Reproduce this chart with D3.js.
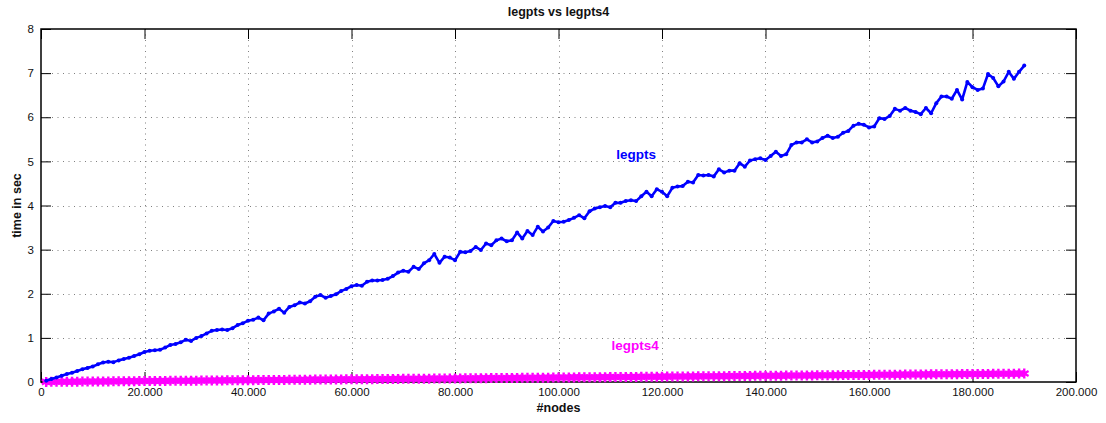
<!DOCTYPE html>
<html>
<head>
<meta charset="utf-8">
<script src="https://cdn.jsdelivr.net/npm/d3@7"></script>
<style>
  html, body { margin: 0; padding: 0; background: #fff; }
  svg { display: block; font-family: "Liberation Sans", Arial, Helvetica, sans-serif; }
</style>
</head>
<body>
<svg id="chart" width="1106" height="423"></svg>
<script>
// ---- data ----
const title = "legpts vs legpts4";
const xLabel = "#nodes";
const yLabel = "time in sec";
const seriesNames = ["legpts", "legpts4"];
const seriesColors = ["#0000ff", "#ff00ff"];
const xTicks = [0, 20000, 40000, 60000, 80000, 100000, 120000, 140000, 160000, 180000, 200000];
const xTickLabels = ["0", "20.000", "40.000", "60.000", "80.000", "100.000", "120.000", "140.000", "160.000", "180.000", "200.000"];
const yTicks = [0, 1, 2, 3, 4, 5, 6, 7, 8];
const nodes = d3.range(1000, 190001, 1000); // 1000 .. 190000

const legpts = [
  0.03, 0.07, 0.10, 0.14, 0.18, 0.21, 0.25, 0.29, 0.32, 0.35,
  0.40, 0.44, 0.46, 0.45, 0.49, 0.52, 0.55, 0.59, 0.63, 0.68,
  0.71, 0.72, 0.73, 0.78, 0.84, 0.86, 0.90, 0.96, 0.93, 1.00,
  1.04, 1.10, 1.16, 1.18, 1.19, 1.18, 1.22, 1.29, 1.33, 1.39,
  1.41, 1.46, 1.40, 1.55, 1.60, 1.66, 1.57, 1.70, 1.74, 1.80,
  1.78, 1.83, 1.93, 1.97, 1.91, 1.95, 1.99, 2.06, 2.11, 2.17,
  2.20, 2.18, 2.27, 2.30, 2.30, 2.31, 2.34, 2.40, 2.48, 2.52,
  2.50, 2.61, 2.56, 2.69, 2.76, 2.90, 2.70, 2.84, 2.82, 2.76,
  2.95, 2.94, 2.97, 3.06, 2.99, 3.14, 3.10, 3.21, 3.25, 3.19,
  3.21, 3.39, 3.25, 3.42, 3.33, 3.52, 3.41, 3.50, 3.65, 3.62,
  3.63, 3.67, 3.72, 3.78, 3.71, 3.87, 3.93, 3.96, 3.99, 3.96,
  4.06, 4.06, 4.10, 4.12, 4.10, 4.21, 4.31, 4.21, 4.37, 4.31,
  4.21, 4.40, 4.43, 4.44, 4.54, 4.52, 4.69, 4.68, 4.69, 4.66,
  4.82, 4.75, 4.79, 4.79, 4.96, 4.88, 5.02, 5.05, 5.07, 5.03,
  5.12, 5.22, 5.12, 5.16, 5.37, 5.43, 5.43, 5.50, 5.43, 5.45,
  5.53, 5.58, 5.53, 5.56, 5.65, 5.69, 5.81, 5.85, 5.83, 5.77,
  5.79, 5.98, 5.96, 6.03, 6.19, 6.15, 6.21, 6.15, 6.12, 6.07,
  6.21, 6.09, 6.32, 6.47, 6.47, 6.42, 6.62, 6.40, 6.80, 6.68,
  6.62, 6.65, 6.98, 6.89, 6.70, 6.81, 7.03, 6.87, 7.03, 7.17
];

const legpts4 = [
  0.002, 0.003, 0.004, 0.005, 0.006, 0.007, 0.008, 0.009, 0.010, 0.011,
  0.012, 0.013, 0.014, 0.015, 0.016, 0.017, 0.018, 0.019, 0.020, 0.021,
  0.022, 0.023, 0.024, 0.025, 0.026, 0.027, 0.028, 0.029, 0.030, 0.031,
  0.032, 0.033, 0.034, 0.035, 0.036, 0.037, 0.038, 0.039, 0.040, 0.041,
  0.042, 0.043, 0.044, 0.045, 0.046, 0.047, 0.048, 0.049, 0.050, 0.051,
  0.052, 0.053, 0.054, 0.055, 0.056, 0.057, 0.058, 0.059, 0.060, 0.061,
  0.062, 0.063, 0.064, 0.065, 0.066, 0.067, 0.068, 0.069, 0.070, 0.071,
  0.072, 0.073, 0.074, 0.075, 0.076, 0.077, 0.078, 0.079, 0.080, 0.081,
  0.082, 0.083, 0.084, 0.085, 0.086, 0.087, 0.088, 0.089, 0.090, 0.091,
  0.092, 0.093, 0.094, 0.095, 0.096, 0.097, 0.098, 0.099, 0.100, 0.101,
  0.102, 0.103, 0.104, 0.105, 0.106, 0.107, 0.108, 0.109, 0.110, 0.111,
  0.112, 0.113, 0.114, 0.115, 0.116, 0.117, 0.118, 0.119, 0.120, 0.121,
  0.122, 0.123, 0.124, 0.125, 0.126, 0.127, 0.128, 0.129, 0.130, 0.131,
  0.132, 0.133, 0.134, 0.135, 0.136, 0.137, 0.138, 0.139, 0.140, 0.141,
  0.142, 0.143, 0.144, 0.145, 0.146, 0.147, 0.148, 0.149, 0.150, 0.151,
  0.152, 0.153, 0.154, 0.155, 0.156, 0.157, 0.158, 0.159, 0.160, 0.161,
  0.162, 0.163, 0.164, 0.165, 0.166, 0.167, 0.168, 0.169, 0.170, 0.171,
  0.172, 0.173, 0.174, 0.175, 0.176, 0.177, 0.178, 0.179, 0.180, 0.181,
  0.182, 0.183, 0.184, 0.185, 0.186, 0.187, 0.188, 0.189, 0.190, 0.191
];

// ---- layout ----
const W = 1106, H = 423;
const margin = { left: 41, right: 30, top: 29, bottom: 41 };
const svg = d3.select("#chart");
const x = d3.scaleLinear().domain([0, 200000]).range([margin.left, W - margin.right]);
const y = d3.scaleLinear().domain([0, 8]).range([H - margin.bottom, margin.top]);
const x0 = x.range()[0], x1 = x.range()[1], y0 = y.range()[0], y1 = y.range()[1];

// grid
const grid = svg.append("g").attr("stroke", "#808080").attr("stroke-width", 1).attr("stroke-dasharray", "1,4.5");
grid.selectAll("line.gx").data(xTicks.slice(1, -1)).join("line")
  .attr("x1", d => Math.round(x(d)) + 0.5).attr("x2", d => Math.round(x(d)) + 0.5)
  .attr("y1", y1).attr("y2", y0);
grid.selectAll("line.gy").data(yTicks.slice(1, -1)).join("line")
  .attr("y1", d => Math.round(y(d)) + 0.5).attr("y2", d => Math.round(y(d)) + 0.5)
  .attr("x1", x0).attr("x2", x1);

// axes with inward ticks
const tickLen = 10;
const fmtX = d => xTickLabels[xTicks.indexOf(d)];
const axB = svg.append("g").attr("transform", `translate(0,${y0})`)
  .call(d3.axisBottom(x).tickValues(xTicks).tickFormat(fmtX).tickSizeInner(-tickLen).tickSizeOuter(0).tickPadding(6));
const axT = svg.append("g").attr("transform", `translate(0,${y1})`)
  .call(d3.axisTop(x).tickValues(xTicks).tickFormat("").tickSizeInner(-tickLen).tickSizeOuter(0));
const axL = svg.append("g").attr("transform", `translate(${x0},0)`)
  .call(d3.axisLeft(y).tickValues(yTicks).tickFormat(d3.format("d")).tickSizeInner(-tickLen).tickSizeOuter(0).tickPadding(6));
const axR = svg.append("g").attr("transform", `translate(${x1},0)`)
  .call(d3.axisRight(y).tickValues(yTicks).tickFormat("").tickSizeInner(-tickLen).tickSizeOuter(0));
[axB, axT, axL, axR].forEach(a => {
  a.select(".domain").remove();
  a.selectAll(".tick line").attr("stroke", "#000").attr("stroke-width", 1);
  a.selectAll(".tick text").attr("fill", "#111").style("font-size", "11.5px")
    .style("font-family", "'Liberation Sans', Arial, sans-serif");
});
axL.selectAll(".tick text").attr("dx", "-1");

// box
svg.append("rect").attr("x", x0).attr("y", y1).attr("width", x1 - x0).attr("height", y0 - y1)
  .attr("fill", "none").attr("stroke", "#000").attr("stroke-width", 1.5);

// series
const ptsA = nodes.map((n, i) => [n, legpts[i]]);
const ptsB = nodes.map((n, i) => [n, legpts4[i]]);
const line = d3.line().x(d => x(d[0])).y(d => y(d[1]));

const gB = svg.append("g");
gB.append("path").datum(ptsB).attr("d", line).attr("fill", "none")
  .attr("stroke", seriesColors[1]).attr("stroke-width", 2.5);
const star = d3.symbol().type(d3.symbolAsterisk).size(70);
gB.selectAll("path.m").data(ptsB).join("path").attr("class", "m")
  .attr("transform", d => `translate(${x(d[0])},${y(d[1])})`)
  .attr("d", star()).attr("fill", "none").attr("stroke", seriesColors[1]).attr("stroke-width", 2.4);

const gA = svg.append("g");
gA.append("path").datum(ptsA).attr("d", line).attr("fill", "none")
  .attr("stroke", seriesColors[0]).attr("stroke-width", 2.6).attr("stroke-linejoin", "round");
gA.selectAll("circle").data(ptsA).join("circle")
  .attr("cx", d => x(d[0])).attr("cy", d => y(d[1])).attr("r", 2)
  .attr("fill", seriesColors[0]);

// labels on series
svg.append("text").attr("x", x(115000)).attr("y", y(5.06)).attr("text-anchor", "middle")
  .attr("fill", seriesColors[0]).style("font-weight", "bold").style("font-size", "13.5px").text(seriesNames[0]);
svg.append("text").attr("x", x(114800)).attr("y", y(0.73)).attr("text-anchor", "middle")
  .attr("fill", seriesColors[1]).style("font-weight", "bold").style("font-size", "13.5px").text(seriesNames[1]);

// title and axis labels
svg.append("text").attr("x", (x0 + x1) / 2).attr("y", 16).attr("text-anchor", "middle")
  .style("font-weight", "bold").style("font-size", "12.5px").attr("fill", "#111").text(title);
svg.append("text").attr("x", (x0 + x1) / 2).attr("y", 412).attr("text-anchor", "middle")
  .style("font-weight", "bold").style("font-size", "12.5px").attr("fill", "#111").text(xLabel);
svg.append("text").attr("transform", `translate(21,${(y0 + y1) / 2}) rotate(-90)`).attr("text-anchor", "middle")
  .style("font-weight", "bold").style("font-size", "12.5px").attr("fill", "#111").text(yLabel);
</script>
</body>
</html>
